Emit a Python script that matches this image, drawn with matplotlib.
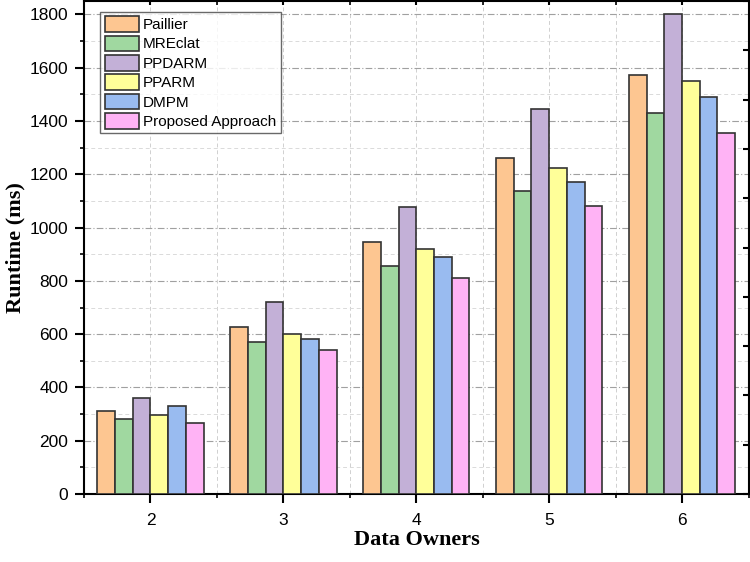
import matplotlib
matplotlib.use("Agg")
import matplotlib.pyplot as plt
import numpy as np
from matplotlib.ticker import MultipleLocator, NullLocator, FixedLocator

owners = [2, 3, 4, 5, 6]
methods = ["Paillier", "MREclat", "PPDARM", "PPARM", "DMPM", "Proposed Approach"]
paillier = [312, 627, 945, 1261, 1571]
mreclat = [282, 571, 857, 1137, 1429]
ppdarm = [359, 719, 1079, 1444, 1803]
pparm = [297, 599, 920, 1222, 1552]
dmpm = [330, 580, 888, 1170, 1489]
proposed = [267, 540, 812, 1081, 1356]
series = [paillier, mreclat, ppdarm, pparm, dmpm, proposed]
colors = ["#FDC691", "#A0D8A0", "#C3B0D7", "#FFFF99", "#99BBF0", "#FFB3F5"]

fig = plt.figure(figsize=(7.5, 5.62), dpi=100)
ax = fig.add_axes([0.112, 0.121, 0.886, 0.877])

x = np.array(owners, dtype=float)
w = 0.8 / 6
for i, (vals, c, lab) in enumerate(zip(series, colors, methods)):
    ax.bar(x - 0.4 + w * (i + 0.5), vals, width=w, color=c, edgecolor="#333333",
           linewidth=1.2, label=lab, zorder=3)

ax.set_xlim(1.5, 6.5)
ax.set_ylim(0, 1850)
ax.set_xticks(owners)
ax.xaxis.set_minor_locator(MultipleLocator(0.5))
ax.yaxis.set_major_locator(MultipleLocator(200))
ax.yaxis.set_minor_locator(MultipleLocator(100))

ax.grid(which="major", axis="y", color="#a0a0a0", linestyle=(0, (6, 2, 1, 2)), linewidth=0.8, zorder=0)
ax.grid(which="minor", axis="y", color="#dadada", linestyle=(0, (4, 3)), linewidth=0.7, zorder=0)
ax.grid(which="both", axis="x", color="#d0d0d0", linestyle=(0, (4, 3)), linewidth=0.7, zorder=0)

# right axis: unlabeled inward ticks dividing the height into 10 parts
ax2 = ax.twinx()
ax2.set_ylim(0, 1)
ax2.yaxis.set_major_locator(FixedLocator(np.linspace(0, 1, 11)))
ax2.yaxis.set_minor_locator(NullLocator())
ax2.tick_params(axis="y", which="major", direction="in", length=4, width=1.5, labelright=False)
for s in ax2.spines.values():
    s.set_visible(False)

ax.yaxis.set_ticks_position("left")
ax.tick_params(axis="both", which="major", labelsize=12.5, width=1.5, length=6.5, direction="out",
               top=True, right=False)
ax.tick_params(axis="both", which="minor", width=1.2, length=3, direction="out",
               top=True, right=False)
ax.tick_params(axis="x", which="major", pad=7)
ax.tick_params(axis="y", which="major", pad=5)
for t in ax.get_xticklabels() + ax.get_yticklabels():
    t.set_fontfamily("Liberation Sans")
for tick in ax.xaxis.get_major_ticks() + ax.xaxis.get_minor_ticks():
    tick.tick2line.set_marker(3)
    tick.tick2line.set_markersize(3)

for s in ax.spines.values():
    s.set_linewidth(1.5)

fig.text(0.556, 0.039, "Data Owners", fontsize=16, fontweight="bold", family="Liberation Serif",
         ha="center", va="center")
fig.text(0.021, 0.56, "Runtime (ms)", fontsize=16, fontweight="bold", family="Liberation Serif",
         ha="center", va="center", rotation=90)

leg = ax.legend(loc="upper left", bbox_to_anchor=(0.02, 0.985), prop={"family": "Liberation Sans", "size": 11},
                frameon=True, fancybox=False, edgecolor="#444444", borderpad=0.3, labelspacing=0.22,
                handlelength=2.2, handleheight=1.2, handletextpad=0.3, borderaxespad=0.2)
leg.get_frame().set_linewidth(1.0)
for p in leg.get_patches():
    p.set_linewidth(1.2)

fig.savefig("out.png", dpi=100)
